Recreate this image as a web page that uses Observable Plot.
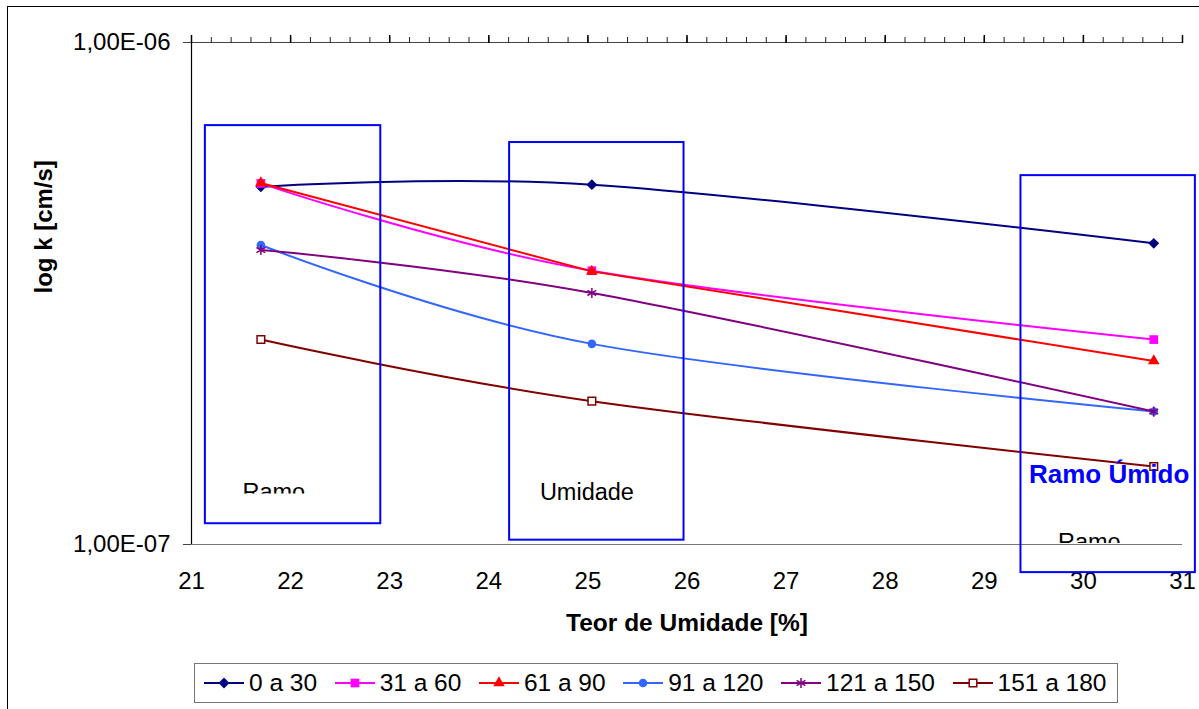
<!DOCTYPE html>
<html>
<head>
<meta charset="utf-8">
<script src="https://cdn.jsdelivr.net/npm/d3@7"></script>
<script src="https://cdn.jsdelivr.net/npm/@observablehq/plot@0.6"></script>
<style>
  html, body { margin: 0; padding: 0; background: #fff; overflow: hidden; }
  #page { position: relative; width: 1199px; height: 709px; font-family: "Liberation Sans", Arial, Helvetica, sans-serif; }
  #frame { position: absolute; left: 7px; top: 6px; width: 1400px; height: 900px; border: 1.5px solid #000; box-sizing: border-box; }
  #chart { position: absolute; left: 0; top: 0; }
  #legend { position: absolute; left: 194px; top: 663px; width: 924px; height: 40px; border: 1.5px solid #777; box-sizing: border-box;
            display: flex; align-items: center; padding-left: 9px; gap: 17.5px; font-size: 24.5px; color: #000; }
  .item { display: flex; align-items: center; gap: 5px; white-space: nowrap; }
  .item svg { display: block; }
</style>
</head>
<body>
<div id="page">
  <div id="frame"></div>
  <div id="chart"></div>
  <div id="legend"></div>
</div>
<script>
// Moisture content (%) of the three compaction points
const moisture = [21.7, 25.04, 30.71];

// Permeability k (cm/s) for each curing interval (days)
const seriesLabels = ["0 a 30", "31 a 60", "61 a 90", "91 a 120", "121 a 150", "151 a 180"];
const k0to30    = [5.16e-7, 5.21e-7, 3.98e-7];
const k31to60   = [5.24e-7, 3.51e-7, 2.56e-7];
const k61to90   = [5.25e-7, 3.50e-7, 2.32e-7];
const k91to120  = [3.95e-7, 2.51e-7, 1.84e-7];
const k121to150 = [3.86e-7, 3.17e-7, 1.84e-7];
const k151to180 = [2.56e-7, 1.93e-7, 1.43e-7];
const seriesValues = [k0to30, k31to60, k61to90, k91to120, k121to150, k151to180];

// Axis ticks
const xTicks = [21, 22, 23, 24, 25, 26, 27, 28, 29, 30, 31];
const topMinorTicks = d3.range(21, 31.0001, 0.2);
const yTicks = [1e-7, 1e-6];

// Highlight boxes around the dry branch, optimum moisture and wet branch
const boxLeft   = [21.14, 24.21, 29.37];
const boxRight  = [22.91, 25.97, 31.13];
const boxTop    = [6.83e-7, 6.32e-7, 5.43e-7];
const boxBottom = [1.10e-7, 1.02e-7, 8.79e-8];

// Line/marker appearance per series
const seriesStyles = [
  {color: "#000080", symbol: "diamond2", r: 4.9, fill: "#000080", stroke: "none",    curve: "cardinal"},
  {color: "#FF00FF", symbol: "square",   r: 4.9, fill: "#FF00FF", stroke: "none",    curve: "cardinal"},
  {color: "#FF0000", symbol: "triangle", r: 4.3, fill: "#FF0000", stroke: "none",    curve: "linear"},
  {color: "#3366FF", symbol: "circle",   r: 4.3, fill: "#3366FF", stroke: "none",    curve: "cardinal"},
  {color: "#800080", symbol: "asterisk", r: 4.8, fill: "none",    stroke: "#800080", curve: "cardinal"},
  {color: "#800000", symbol: "square",   r: 4.3, fill: "white",   stroke: "#800000", curve: "cardinal"}
];

const fontFamily = '"Liberation Sans", Arial, Helvetica, sans-serif';

// Excel-style scientific labels: 1,00E-06
const fmtSci = d => {
  const e = Math.round(Math.log10(d));
  const m = d / Math.pow(10, e);
  return m.toFixed(2).replace(".", ",") + "E" + (e < 0 ? "-" : "+") + String(Math.abs(e)).padStart(2, "0");
};

const rows = seriesValues.map((vals, s) => moisture.map((x, i) => ({series: seriesLabels[s], x, k: vals[i]})));
const boxes = boxLeft.map((x1, i) => ({x1, x2: boxRight[i], y1: boxTop[i], y2: boxBottom[i]}));

const seriesMarks = rows.flatMap((data, s) => {
  const st = seriesStyles[s];
  return [
    Plot.line(data, {x: "x", y: "k", stroke: st.color, strokeWidth: 2, curve: st.curve}),
    Plot.dot(data, {x: "x", y: "k", symbol: st.symbol, r: st.r, fill: st.fill, stroke: st.stroke, strokeWidth: 1.5})
  ];
});

const plot = Plot.plot({
  width: 1199,
  height: 650,
  marginLeft: 191,
  marginRight: 17,
  marginTop: 42,
  marginBottom: 106,
  x: {domain: [21, 31]},
  y: {type: "log", domain: [1e-7, 1e-6]},
  style: {fontFamily, fontSize: "24px", color: "#000", background: "transparent", overflow: "visible"},
  marks: [
    // axis lines
    Plot.ruleY([1e-6], {stroke: "#444", strokeWidth: 1.2}),
    Plot.ruleY([1e-7], {stroke: "#777", strokeWidth: 1.2}),
    Plot.ruleX([21], {stroke: "#000", strokeWidth: 1.2}),
    // top axis: minor and major ticks, no labels
    Plot.axisX({anchor: "top", ticks: topMinorTicks, tickSize: 6, tickFormat: () => "", label: null, stroke: "#222"}),
    Plot.axisX({anchor: "top", ticks: xTicks, tickSize: 8, tickFormat: () => "", label: null, stroke: "#000", strokeWidth: 1.5}),
    // bottom labels
    Plot.axisX({anchor: "bottom", ticks: xTicks, tickSize: 0, tickPadding: 27, tickFormat: d => String(d), label: null, fontSize: 24}),
    // left axis
    Plot.axisY({anchor: "left", ticks: yTicks, tickSize: 8, tickPadding: 13, tickFormat: fmtSci, label: null, fontSize: 24, stroke: "#444"}),
    // axis titles
    Plot.text(["log k [cm/s]"], {text: d => d, frameAnchor: "left", dx: -147, rotate: -90, fontWeight: "bold", fontSize: 24}),
    Plot.text(["Teor de Umidade [%]"], {text: d => d, frameAnchor: "bottom", dy: 86, lineAnchor: "bottom", fontWeight: "bold", fontSize: 24.5}),
    ...seriesMarks,
    // highlight boxes
    Plot.rect(boxes, {x1: "x1", x2: "x2", y1: "y1", y2: "y2", stroke: "#0000FF", strokeWidth: 2, fill: "none"}),
    // box captions
    Plot.text(["Ramo"], {text: d => d, x: 21.83, y: 1.224e-7, lineAnchor: "bottom", fontSize: 23.5, ariaDescription: "caption-dry"}),
    Plot.text(["Umidade"], {text: d => d, x: 24.99, y: 1.224e-7, lineAnchor: "bottom", fontSize: 23.5}),
    Plot.text(["Ramo"], {text: d => d, x: 30.06, y: 9.73e-8, lineAnchor: "bottom", fontSize: 23.5, ariaDescription: "caption-wet"}),
    Plot.text(["Ramo Úmido"], {text: d => d, x: 30.26, y: 1.327e-7, lineAnchor: "bottom", fontSize: 26, fontWeight: "bold", fill: "#0000FF"})
  ]
});

// Caption text boxes cut their content at the box edge
const yScale = plot.scale("y");
const svg = d3.select(plot.tagName.toLowerCase() === "svg" ? plot : plot.querySelector("svg"));
const defs = svg.append("defs");
[["caption-dry", 1.264e-7], ["caption-wet", 1.007e-7]].forEach(([label, cut], i) => {
  const id = "cut-" + i;
  defs.append("clipPath").attr("id", id).attr("clipPathUnits", "userSpaceOnUse")
    .append("rect").attr("x", 0).attr("y", 0).attr("width", 1199).attr("height", yScale.apply(cut));
  svg.selectAll(`g[aria-description="${label}"]`).attr("clip-path", `url(#${id})`);
});

document.getElementById("chart").appendChild(plot);

// Legend
const symbolTypes = {diamond2: d3.symbolDiamond2, square: d3.symbolSquare, triangle: d3.symbolTriangle, circle: d3.symbolCircle, asterisk: d3.symbolAsterisk};
const legend = d3.select("#legend");
seriesLabels.forEach((label, s) => {
  const st = seriesStyles[s];
  const item = legend.append("div").attr("class", "item");
  const sw = item.append("svg").attr("width", 40).attr("height", 20);
  sw.append("line").attr("x1", 0).attr("x2", 40).attr("y1", 10).attr("y2", 10).attr("stroke", st.color).attr("stroke-width", 2);
  sw.append("path")
    .attr("transform", "translate(20,10)")
    .attr("d", d3.symbol(symbolTypes[st.symbol], Math.PI * st.r * st.r)())
    .attr("fill", st.fill)
    .attr("stroke", st.stroke)
    .attr("stroke-width", 1.5);
  item.append("span").text(label);
});
</script>
</body>
</html>
